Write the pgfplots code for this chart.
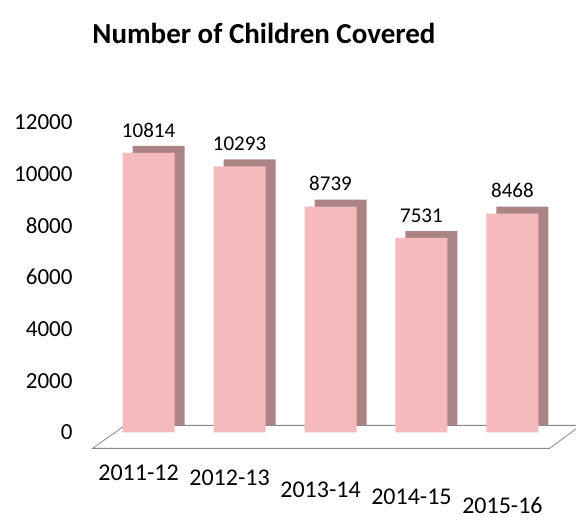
\documentclass[border=0pt]{standalone}
\usepackage{pgfplots}
\pgfplotsset{compat=1.18}
\usepackage{fontspec}
\setmainfont{Carlito}
\definecolor{barfront}{HTML}{F5BABB}
\definecolor{barside}{HTML}{AD8485}
\definecolor{floorline}{HTML}{8A8A8A}
\newcommand{\xl}[2]{\raisebox{-#1bp}[16bp][0pt]{#2}}
\begin{document}
\begin{tikzpicture}
\useasboundingbox (-94bp,-68bp) rectangle (482bp,453bp);
\node[font=\fontsize{29bp}{32bp}\selectfont\bfseries] at (170bp,420bp) {Number of Children Covered};
\begin{axis}[
  at={(0,0)}, anchor=south west,
  scale only axis, width=473bp, height=330.7bp,
  xmin=-0.6, xmax=4.6, ymin=-800, ymax=12000,
  clip=false,
  axis line style={draw=none},
  major tick length=0pt,
  ytick={0,2000,4000,6000,8000,10000,12000},
  xtick={0,1,2,3,4},
  xticklabels={{\xl{4}{2011-12}},{\xl{9}{2012-13}},{\xl{21}{2013-14}},{\xl{28}{2014-15}},{\xl{37}{2015-16}}},
  /pgf/number format/assume math mode=true,
  /pgf/number format/1000 sep={},
  scaled y ticks=false,
  yticklabel style={font=\fontsize{23bp}{25bp}\selectfont, xshift=-18bp},
  xticklabel style={font=\fontsize{24bp}{26bp}\selectfont, anchor=north, yshift=-4bp, xshift=-10bp},
  ybar, bar width=52bp,
]
\draw[floorline, line width=0.8bp, fill=white] (axis cs:-0.615,-620) -- (axis cs:4.41,-620) -- (axis cs:4.75,270) -- (axis cs:-0.26,270) -- cycle;
\addplot[fill=barside, draw=none, bar shift=10bp, yshift=7bp] coordinates {(0,10814) (1,10293) (2,8739) (3,7531) (4,8468)};
\addplot[fill=barfront, draw=none, bar shift=0bp,
  nodes near coords,
  every node near coord/.append style={font=\fontsize{21bp}{23bp}\selectfont, text=black, yshift=12bp}]
  coordinates {(0,10814) (1,10293) (2,8739) (3,7531) (4,8468)};
\end{axis}
\end{tikzpicture}
\end{document}
